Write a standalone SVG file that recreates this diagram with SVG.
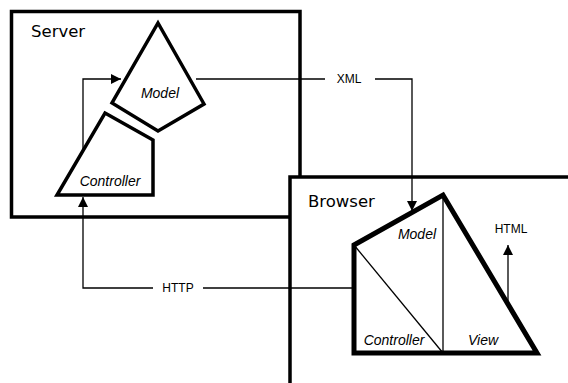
<svg xmlns="http://www.w3.org/2000/svg" width="568" height="383" viewBox="0 0 568 383">
<defs>
<style>
.box{fill:#fff;stroke:#000;stroke-width:3.5}
.shape{fill:#fff;stroke:#000;stroke-width:3.5;stroke-linejoin:miter}
.thick{fill:none;stroke:#000;stroke-width:5;stroke-linejoin:miter}
.thin{fill:none;stroke:#000;stroke-width:1.3}
.conn{fill:none;stroke:#000;stroke-width:1.3}
.title{font-family:"DejaVu Sans","Liberation Sans",sans-serif;font-size:16.5px;fill:#000}
.lbl{font-family:"Liberation Sans",Arial,sans-serif;font-size:14px;font-style:italic;fill:#000}
.clbl{font-family:"Liberation Sans",Arial,sans-serif;font-size:12px;fill:#000}
</style>
<marker id="arr" viewBox="0 0 10 10" refX="10" refY="5" markerWidth="10" markerHeight="10" markerUnits="userSpaceOnUse" orient="auto">
<path d="M0,0 L10,5 L0,10 Z" fill="#000"/>
</marker>
</defs>
<rect width="568" height="383" fill="#fff"/>
<g id="server">
<rect class="box" x="11.5" y="11.5" width="288.5" height="205.5"/>
<text class="title" x="31" y="37">Server</text>
</g>
<g id="server-model">
<polygon class="shape" points="158,23 204,104 158,131 112,103"/>
<text class="lbl" x="160" y="98" text-anchor="middle">Model</text>
</g>
<g id="server-controller">
<polygon class="shape" points="105,113 153,140 153,195 57,195"/>
<text class="lbl" x="110" y="186" text-anchor="middle">Controller</text>
</g>
<g id="browser">
<rect class="box" x="290" y="177" width="300" height="230"/>
<text class="title" x="308" y="207">Browser</text>
</g>
<g id="browser-mvc">
<line class="thin" x1="443" y1="195" x2="443" y2="353"/>
<line class="thin" x1="354" y1="245" x2="443" y2="353"/>
<polygon class="thick" points="354,245 443,195 537,353 354,353"/>
<text class="lbl" x="417" y="239" text-anchor="middle">Model</text>
<text class="lbl" x="394" y="345" text-anchor="middle">Controller</text>
<text class="lbl" x="483" y="345" text-anchor="middle">View</text>
</g>
<g id="connectors">
<path class="conn" d="M83,149 V79 H121" marker-end="url(#arr)"/>
<path class="conn" d="M196,79 H325"/>
<path class="conn" d="M375,79 H412 V211" marker-end="url(#arr)"/>
<text class="clbl" x="349" y="83" text-anchor="middle">XML</text>
<path class="conn" d="M354,288 H203"/>
<path class="conn" d="M153,288 H83 V197" marker-end="url(#arr)"/>
<text class="clbl" x="178" y="292" text-anchor="middle">HTTP</text>
<path class="conn" d="M508,302 V245" marker-end="url(#arr)"/>
<text class="clbl" x="511" y="233" text-anchor="middle">HTML</text>
</g>
</svg>
